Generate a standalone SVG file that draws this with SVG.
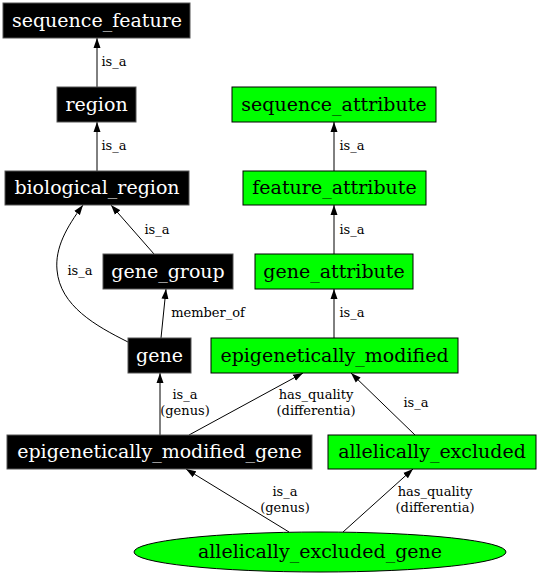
<svg xmlns="http://www.w3.org/2000/svg" width="540" height="576" viewBox="0 0 540 576">
<style>
.nb rect{fill:#000;stroke:#555;stroke-width:1}
.ng rect,.ng ellipse{fill:#00ff00;stroke:#000;stroke-width:1}
.nb text{fill:#fff}
text{font-family:"DejaVu Serif","Liberation Serif",serif;text-anchor:middle}
.node text{font-size:19px}
.lbl{font-size:13px;fill:#000}
.e{fill:none;stroke:#000;stroke-width:1;marker-end:url(#arr)}
</style>
<defs>
<marker id="arr" markerWidth="10" markerHeight="8" refX="10" refY="4" orient="auto" markerUnits="userSpaceOnUse">
<path d="M0,0.5 L10,4 L0,7.5 Z" fill="#000"/>
</marker>
</defs>
<rect width="540" height="576" fill="#fff"/>
<g id="connectors">
<path class="e" d="M97,87 L97,38"/>
<text class="lbl" x="114" y="66">is_a</text>
<path class="e" d="M97,171 L97,122"/>
<text class="lbl" x="114" y="150">is_a</text>
<path class="e" d="M154,254 L111,205"/>
<text class="lbl" x="157" y="234">is_a</text>
<path class="e" d="M128,342 C96,326 60,306 57,270 C55,248 66,228 83,205"/>
<text class="lbl" x="80" y="275">is_a</text>
<path class="e" d="M161,338 L166,289"/>
<text class="lbl" x="208" y="317">member_of</text>
<path class="e" d="M334,171 L334,122"/>
<text class="lbl" x="352" y="150">is_a</text>
<path class="e" d="M334,254 L334,205"/>
<text class="lbl" x="352" y="234">is_a</text>
<path class="e" d="M334,338 L334,289"/>
<text class="lbl" x="352" y="317">is_a</text>
<path class="e" d="M160,435 L160,373"/>
<text class="lbl" x="185" y="399">is_a</text>
<text class="lbl" x="185" y="415">(genus)</text>
<path class="e" d="M189,435 L303,373"/>
<text class="lbl" x="316" y="399">has_quality</text>
<text class="lbl" x="316" y="415">(differentia)</text>
<path class="e" d="M415,435 L351,373"/>
<text class="lbl" x="416" y="407">is_a</text>
<path class="e" d="M289,532 L186,469"/>
<text class="lbl" x="285" y="496">is_a</text>
<text class="lbl" x="285" y="512">(genus)</text>
<path class="e" d="M343,532 L413,469"/>
<text class="lbl" x="435" y="496">has_quality</text>
<text class="lbl" x="435" y="512">(differentia)</text>
</g>
<g id="sequence_feature" class="node nb"><rect x="3" y="3" width="187" height="35"/><text x="97" y="27">sequence_feature</text></g>
<g id="region" class="node nb"><rect x="57" y="87" width="79" height="35"/><text x="96.5" y="111">region</text></g>
<g id="biological_region" class="node nb"><rect x="5" y="171" width="184" height="34"/><text x="97" y="194">biological_region</text></g>
<g id="gene_group" class="node nb"><rect x="103" y="254" width="130" height="35"/><text x="168" y="278">gene_group</text></g>
<g id="gene" class="node nb"><rect x="128" y="338" width="63" height="35"/><text x="159.5" y="362">gene</text></g>
<g id="epigenetically_modified_gene" class="node nb"><rect x="7" y="435" width="305" height="34"/><text x="159.5" y="458">epigenetically_modified_gene</text></g>
<g id="sequence_attribute" class="node ng"><rect x="232" y="87" width="204" height="35"/><text x="334" y="111">sequence_attribute</text></g>
<g id="feature_attribute" class="node ng"><rect x="243" y="171" width="183" height="34"/><text x="334.5" y="194">feature_attribute</text></g>
<g id="gene_attribute" class="node ng"><rect x="255" y="254" width="158" height="35"/><text x="334" y="278">gene_attribute</text></g>
<g id="epigenetically_modified" class="node ng"><rect x="211" y="338" width="247" height="35"/><text x="334.5" y="362">epigenetically_modified</text></g>
<g id="allelically_excluded" class="node ng"><rect x="328" y="435" width="208" height="34"/><text x="432" y="458">allelically_excluded</text></g>
<g id="allelically_excluded_gene" class="node ng"><ellipse cx="320" cy="552" rx="186" ry="20"/><text x="320" y="558">allelically_excluded_gene</text></g>
</svg>
